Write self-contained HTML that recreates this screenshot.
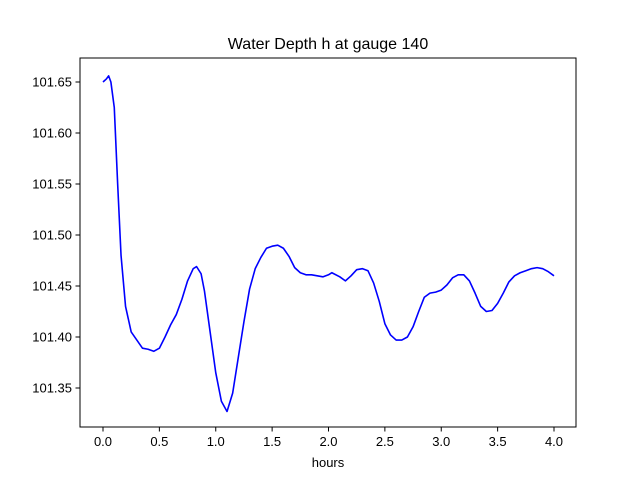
<!DOCTYPE html>
<html><head><meta charset="utf-8"><style>
body{margin:0;background:#fff;}
svg{display:block;font-family:"Liberation Sans","DejaVu Sans",sans-serif;}
</style></head><body>
<svg id="chart" width="640" height="480">
<rect x="0" y="0" width="640" height="480" fill="#fff"/>
<text x="328" y="49" text-anchor="middle" font-size="16">Water Depth h at gauge 140</text>
<g id="xt"></g>
<g id="yt"></g>
<text x="328" y="467" text-anchor="middle" font-size="13">hours</text>
<polyline id="line" fill="none" stroke="#0000ff" stroke-width="1.6" stroke-linejoin="round"/>
<rect x="80" y="58" width="496" height="369" fill="none" stroke="#000" stroke-width="1"/>
</svg>
<script>
const times=[0.0,0.03,0.05,0.07,0.1,0.13,0.16,0.2,0.25,0.3,0.35,0.4,0.45,0.5,0.55,0.6,0.65,0.7,0.75,0.8,0.83,0.87,0.9,0.95,1.0,1.05,1.1,1.15,1.2,1.25,1.3,1.35,1.4,1.45,1.5,1.55,1.6,1.65,1.7,1.75,1.8,1.85,1.9,1.95,2.0,2.03,2.1,2.15,2.2,2.25,2.3,2.35,2.4,2.45,2.5,2.55,2.6,2.65,2.7,2.75,2.8,2.85,2.9,2.95,3.0,3.05,3.1,3.15,3.2,3.25,3.3,3.35,3.4,3.45,3.5,3.55,3.6,3.65,3.7,3.75,3.8,3.85,3.9,3.95,4.0];
const depths=[101.650,101.653,101.656,101.650,101.625,101.55,101.48,101.43,101.405,101.397,101.389,101.388,101.386,101.389,101.400,101.412,101.422,101.437,101.455,101.467,101.469,101.462,101.445,101.405,101.365,101.337,101.327,101.345,101.38,101.415,101.447,101.467,101.478,101.487,101.489,101.490,101.487,101.479,101.468,101.463,101.461,101.461,101.460,101.459,101.461,101.463,101.459,101.455,101.460,101.466,101.467,101.465,101.453,101.435,101.413,101.402,101.397,101.397,101.400,101.410,101.425,101.439,101.443,101.444,101.446,101.451,101.458,101.461,101.461,101.455,101.443,101.430,101.425,101.426,101.433,101.443,101.454,101.460,101.463,101.465,101.467,101.468,101.467,101.464,101.460];
const xTicks=[0,0.5,1,1.5,2,2.5,3,3.5,4];
const xTickLabels=["0.0","0.5","1.0","1.5","2.0","2.5","3.0","3.5","4.0"];
const yTicks=[101.35,101.40,101.45,101.50,101.55,101.60,101.65];
const yTickLabels=["101.35","101.40","101.45","101.50","101.55","101.60","101.65"];
const NS="http://www.w3.org/2000/svg";
const sx=v=>103+(v-0)*112.75;
const sy=v=>388-(v-101.35)*1020;
const xt=document.getElementById('xt'), yt=document.getElementById('yt');
xTicks.forEach((v,i)=>{
  const l=document.createElementNS(NS,'line');
  
  
  l.setAttribute('x1',sx(v));l.setAttribute('x2',sx(v));l.setAttribute('y1',427);l.setAttribute('y2',431.5);l.setAttribute('stroke','#000');
  xt.appendChild(l);
  const t=document.createElementNS(NS,'text');
  
  
  t.setAttribute('x',sx(v));t.setAttribute('y',446);t.setAttribute('text-anchor','middle');t.setAttribute('font-size','13');
  t.textContent=xTickLabels[i];xt.appendChild(t);
});
yTicks.forEach((v,i)=>{
  const l=document.createElementNS(NS,'line');
  
  
  l.setAttribute('x1',75.5);l.setAttribute('x2',80);l.setAttribute('y1',sy(v));l.setAttribute('y2',sy(v));l.setAttribute('stroke','#000');
  yt.appendChild(l);
  const t=document.createElementNS(NS,'text');
  
  
  t.setAttribute('x',72);t.setAttribute('y',sy(v)+4.5);t.setAttribute('text-anchor','end');t.setAttribute('font-size','13');
  t.textContent=yTickLabels[i];yt.appendChild(t);
});
document.getElementById('line').setAttribute('points',times.map((t,i)=>sx(t)+','+sy(depths[i])).join(' '));
</script>
</body></html>
